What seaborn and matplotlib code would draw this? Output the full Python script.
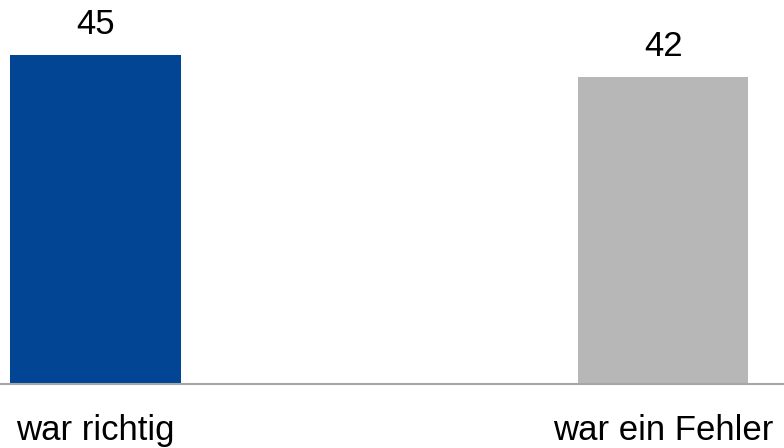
import pandas as pd
import seaborn as sns
import matplotlib
matplotlib.use('Agg')
import matplotlib.pyplot as plt

# Daten
categories = ['war richtig', 'war ein Fehler']
values = [45, 42]
bar_colors = ['#034595', '#B7B7B7']

df = pd.DataFrame({'Kategorie': categories, 'Wert': values})

sns.set_style('white')
plt.rcParams['font.family'] = ['Liberation Sans', 'DejaVu Sans']

fig = plt.figure(figsize=(7.84, 4.48), dpi=100)
ax = fig.add_axes([0, 0.143, 1, 0.857])

sns.barplot(data=df, x='Kategorie', y='Wert', hue='Kategorie', palette=bar_colors,
            width=0.3, legend=False, ax=ax, saturation=1, linewidth=0)

ax.set_xlim(-0.168, 1.213)
ax.set_ylim(0, 52.5)

for c in ax.containers:
    ax.bar_label(c, fmt='%d', padding=10, fontsize=25, color='black')

for s in ['top', 'left', 'right']:
    ax.spines[s].set_visible(False)
ax.spines['bottom'].set_color('#A6A6A6')
ax.spines['bottom'].set_linewidth(1.5)

ax.set_yticks([])
ax.set_xlabel('')
ax.set_ylabel('')
ax.tick_params(axis='x', length=0, pad=22, labelsize=25, labelcolor='black')

fig.savefig('out.png', dpi=100)
